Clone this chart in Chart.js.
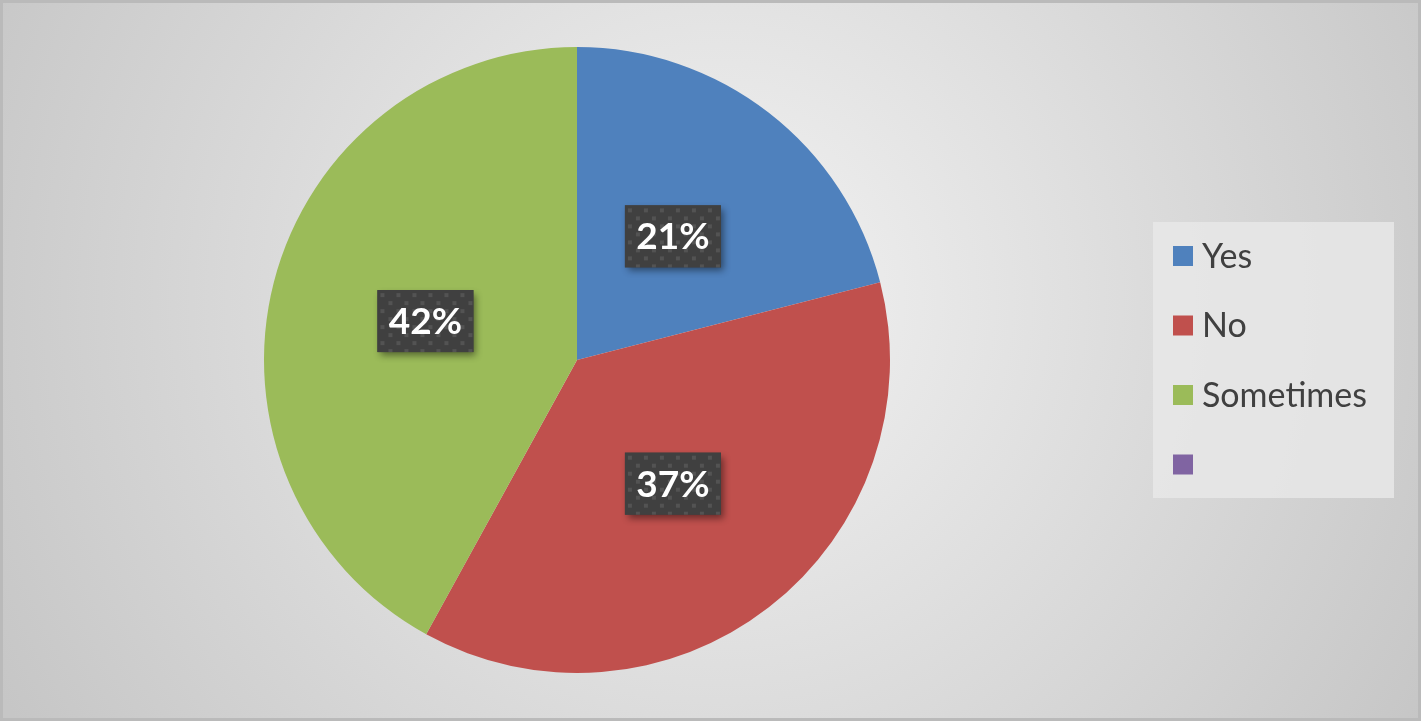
<!DOCTYPE html>
<html>
<head>
<meta charset="utf-8">
<script src="https://cdn.jsdelivr.net/npm/chart.js@4"></script>
<style>
    body { margin: 0; background: #ffffff; }
    #grafico { display: block; }
</style>
</head>
<body>
<canvas id="grafico" width="1421" height="721"></canvas>
<script>
// Datos del gráfico
const categorias = ['Yes', 'No', 'Sometimes', ''];
const valores = [21, 37, 42, 0];
const colores = ['#4f81bd', '#c0504d', '#9bbb59', '#8064a2'];

// Fondo con degradado radial y marco gris
const pluginFondo = {
    id: 'fondo',
    beforeDraw(chart) {
        const ctx = chart.ctx;
        const w = chart.width, h = chart.height;
        ctx.save();
        const grad = ctx.createRadialGradient(720, 300, 0, 720, 300, 820);
        grad.addColorStop(0, '#f3f3f3');
        grad.addColorStop(1, '#c6c6c6');
        ctx.fillStyle = grad;
        ctx.fillRect(0, 0, w, h);
        ctx.strokeStyle = '#bababa';
        ctx.lineWidth = 3;
        ctx.strokeRect(1.5, 1.5, w - 3, h - 3);
        ctx.restore();
    }
};

// Patrón de puntos para las etiquetas
function crearPatron(ctx) {
    const c = document.createElement('canvas');
    c.width = 16;
    c.height = 16;
    const p = c.getContext('2d');
    p.fillStyle = '#404040';
    p.fillRect(0, 0, 16, 16);
    p.fillStyle = '#535353';
    p.fillRect(3, 3, 4, 4);
    p.fillRect(11, 11, 4, 4);
    return ctx.createPattern(c, 'repeat');
}

// Etiquetas de porcentaje en cada sector
const pluginEtiquetas = {
    id: 'etiquetas',
    afterDatasetsDraw(chart) {
        const ctx = chart.ctx;
        const meta = chart.getDatasetMeta(0);
        const datos = chart.data.datasets[0].data;
        const total = datos.reduce((a, b) => a + b, 0);
        const patron = crearPatron(ctx);
        meta.data.forEach(function (arco, i) {
            if (!datos[i]) return;
            const pos = arco.tooltipPosition();
            const texto = Math.round(datos[i] / total * 100) + '%';
            const bw = 96, bh = 62;
            const x = pos.x - bw / 2, y = pos.y - bh / 2;
            ctx.save();
            ctx.shadowColor = 'rgba(0,0,0,0.45)';
            ctx.shadowBlur = 7;
            ctx.shadowOffsetX = 3;
            ctx.shadowOffsetY = 4;
            ctx.fillStyle = '#404040';
            ctx.fillRect(x, y, bw, bh);
            ctx.restore();
            ctx.save();
            ctx.translate(x, y);
            ctx.fillStyle = patron;
            ctx.fillRect(0, 0, bw, bh);
            ctx.restore();
            ctx.save();
            ctx.fillStyle = '#ffffff';
            ctx.font = 'bold 37px Lato';
            ctx.textAlign = 'center';
            ctx.textBaseline = 'middle';
            ctx.fillText(texto, pos.x, pos.y + 1);
            ctx.restore();
        });
    }
};

// Leyenda a la derecha
const pluginLeyenda = {
    id: 'leyenda',
    afterDraw(chart) {
        const ctx = chart.ctx;
        ctx.save();
        ctx.fillStyle = 'rgba(232,232,232,0.85)';
        ctx.fillRect(1153, 222, 241, 276);
        ctx.font = '34px Lato';
        ctx.textBaseline = 'middle';
        chart.data.labels.forEach(function (etiqueta, i) {
            const yc = 256 + i * 69.5;
            ctx.fillStyle = colores[i];
            ctx.fillRect(1173, yc - 10, 20, 20);
            ctx.fillStyle = '#404040';
            ctx.fillText(etiqueta, 1202, yc + 1);
        });
        ctx.restore();
    }
};

new Chart(document.getElementById('grafico'), {
    type: 'pie',
    data: {
        labels: categorias,
        datasets: [{
            data: valores,
            backgroundColor: colores,
            borderWidth: 0
        }]
    },
    options: {
        responsive: false,
        animation: false,
        devicePixelRatio: 1,
        layout: {
            padding: { top: 47, bottom: 48, left: 264, right: 531 }
        },
        plugins: {
            legend: { display: false },
            tooltip: { enabled: false }
        }
    },
    plugins: [pluginFondo, pluginEtiquetas, pluginLeyenda]
});
</script>
</body>
</html>
